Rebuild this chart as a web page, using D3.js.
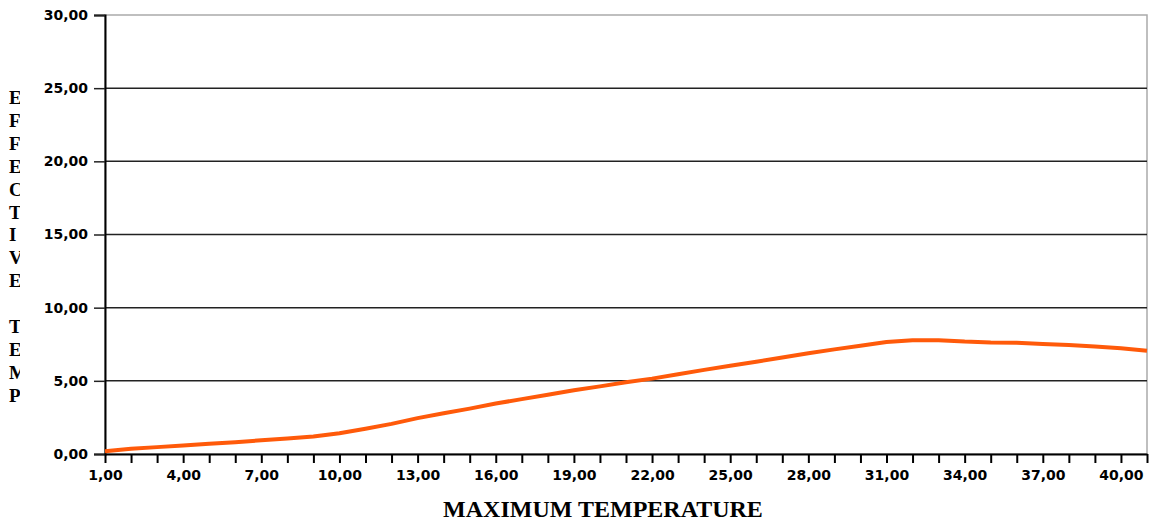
<!DOCTYPE html>
<html>
<head>
<meta charset="utf-8">
<script src="https://cdn.jsdelivr.net/npm/d3@7"></script>
<style>
  body { margin: 0; background: #fff; }
  .tick text { font-family: "DejaVu Sans", Verdana, sans-serif; font-weight: bold; font-size: 14px; fill: #000; }
</style>
</head>
<body>
<div class="chart"></div>
<script>
// maximum temperature (categories) and effective temp values
const maxTemp = d3.range(1, 42);
const effectiveTemp = [
  0.19, 0.36, 0.47, 0.58, 0.70, 0.81, 0.94, 1.06, 1.20, 1.42,
  1.72, 2.06, 2.45, 2.78, 3.10, 3.45, 3.75, 4.05, 4.35, 4.62,
  4.90, 5.15, 5.45, 5.75, 6.03, 6.30, 6.60, 6.88, 7.15, 7.40,
  7.65, 7.78, 7.78, 7.68, 7.62, 7.60, 7.52, 7.45, 7.35, 7.22, 7.05
];
const yTicks = [0, 5, 10, 15, 20, 25, 30];
const xLabelTicks = [1, 4, 7, 10, 13, 16, 19, 22, 25, 28, 31, 34, 37, 40];
const yTitle = 'EFFECTIVE TEMP';
const xTitle = 'MAXIMUM TEMPERATURE';

const w = 1149;
const h = 521;
const margin = { top: 15, right: 2, bottom: 67, left: 105 };

const fmt = v => d3.format('.2f')(v).replace('.', ',');

const xScale = d3.scaleLinear()
                 .domain([1, 41])
                 .range([margin.left, w - margin.right]);

const yScale = d3.scaleLinear()
                 .domain([0, 30])
                 .range([h - margin.bottom, margin.top]);

const svg = d3.select('.chart')
              .append('svg')
              .attr('width', w)
              .attr('height', h);

// frame top / right (gray)
svg.append('rect')
   .attr('x', margin.left)
   .attr('y', margin.top)
   .attr('width', xScale(41) - margin.left)
   .attr('height', yScale(0) - margin.top)
   .attr('fill', 'none')
   .attr('stroke', '#aaa')
   .attr('stroke-width', 1.5);

// horizontal grid
svg.selectAll('line.grid')
   .data(yTicks.filter(d => d > 0 && d < 30))
   .enter()
   .append('line')
   .attr('class', 'grid')
   .attr('x1', margin.left)
   .attr('x2', xScale(41))
   .attr('y1', d => yScale(d))
   .attr('y2', d => yScale(d))
   .attr('stroke', '#222')
   .attr('stroke-width', 1.5);

// y axis
const yAxis = d3.axisLeft(yScale)
                .tickValues(yTicks)
                .tickSize(11)
                .tickPadding(6)
                .tickFormat(fmt);

svg.append('g')
   .attr('transform', `translate(${margin.left}, 0)`)
   .call(yAxis)
   .call(g => g.select('.domain').attr('stroke', '#000').attr('stroke-width', 2))
   .call(g => g.selectAll('.tick line').attr('stroke', '#222').attr('stroke-width', 1.5));

// x axis: a tick at every unit, labels every 3
const xAxis = d3.axisBottom(xScale)
                .tickValues(maxTemp)
                .tickSize(9)
                .tickPadding(7)
                .tickSizeOuter(0)
                .tickFormat(d => xLabelTicks.includes(d) ? fmt(d) : '');

svg.append('g')
   .attr('transform', `translate(0, ${yScale(0)})`)
   .call(xAxis)
   .call(g => g.select('.domain').attr('stroke', '#000').attr('stroke-width', 2))
   .call(g => g.selectAll('.tick line').attr('stroke', '#000').attr('stroke-width', 2));

// the line
const line = d3.line()
               .x((d, i) => xScale(maxTemp[i]))
               .y(d => yScale(d));

svg.append('path')
   .datum(effectiveTemp)
   .attr('d', line)
   .attr('fill', 'none')
   .attr('stroke', '#ff5a0a')
   .attr('stroke-width', 4)
   .attr('stroke-linejoin', 'round');

// stacked vertical title, clipped on the right like the original
svg.append('clipPath')
   .attr('id', 'yclip')
   .append('rect')
   .attr('x', 0).attr('y', 0)
   .attr('width', 20).attr('height', h);

svg.append('g')
   .attr('clip-path', 'url(#yclip)')
   .selectAll('text')
   .data(yTitle.split(''))
   .enter()
   .append('text')
   .attr('x', 9)
   .attr('y', (d, i) => 104 + i * 22.9)
   .style('font-family', '"Liberation Serif", "Times New Roman", serif')
   .style('font-weight', 'bold')
   .style('font-size', '19px')
   .text(d => d);

svg.append('text')
   .attr('x', 603)
   .attr('y', 517)
   .attr('text-anchor', 'middle')
   .style('font-family', '"Liberation Serif", "Times New Roman", serif')
   .style('font-weight', 'bold')
   .style('font-size', '24px')
   .text(xTitle);
</script>
</body>
</html>
